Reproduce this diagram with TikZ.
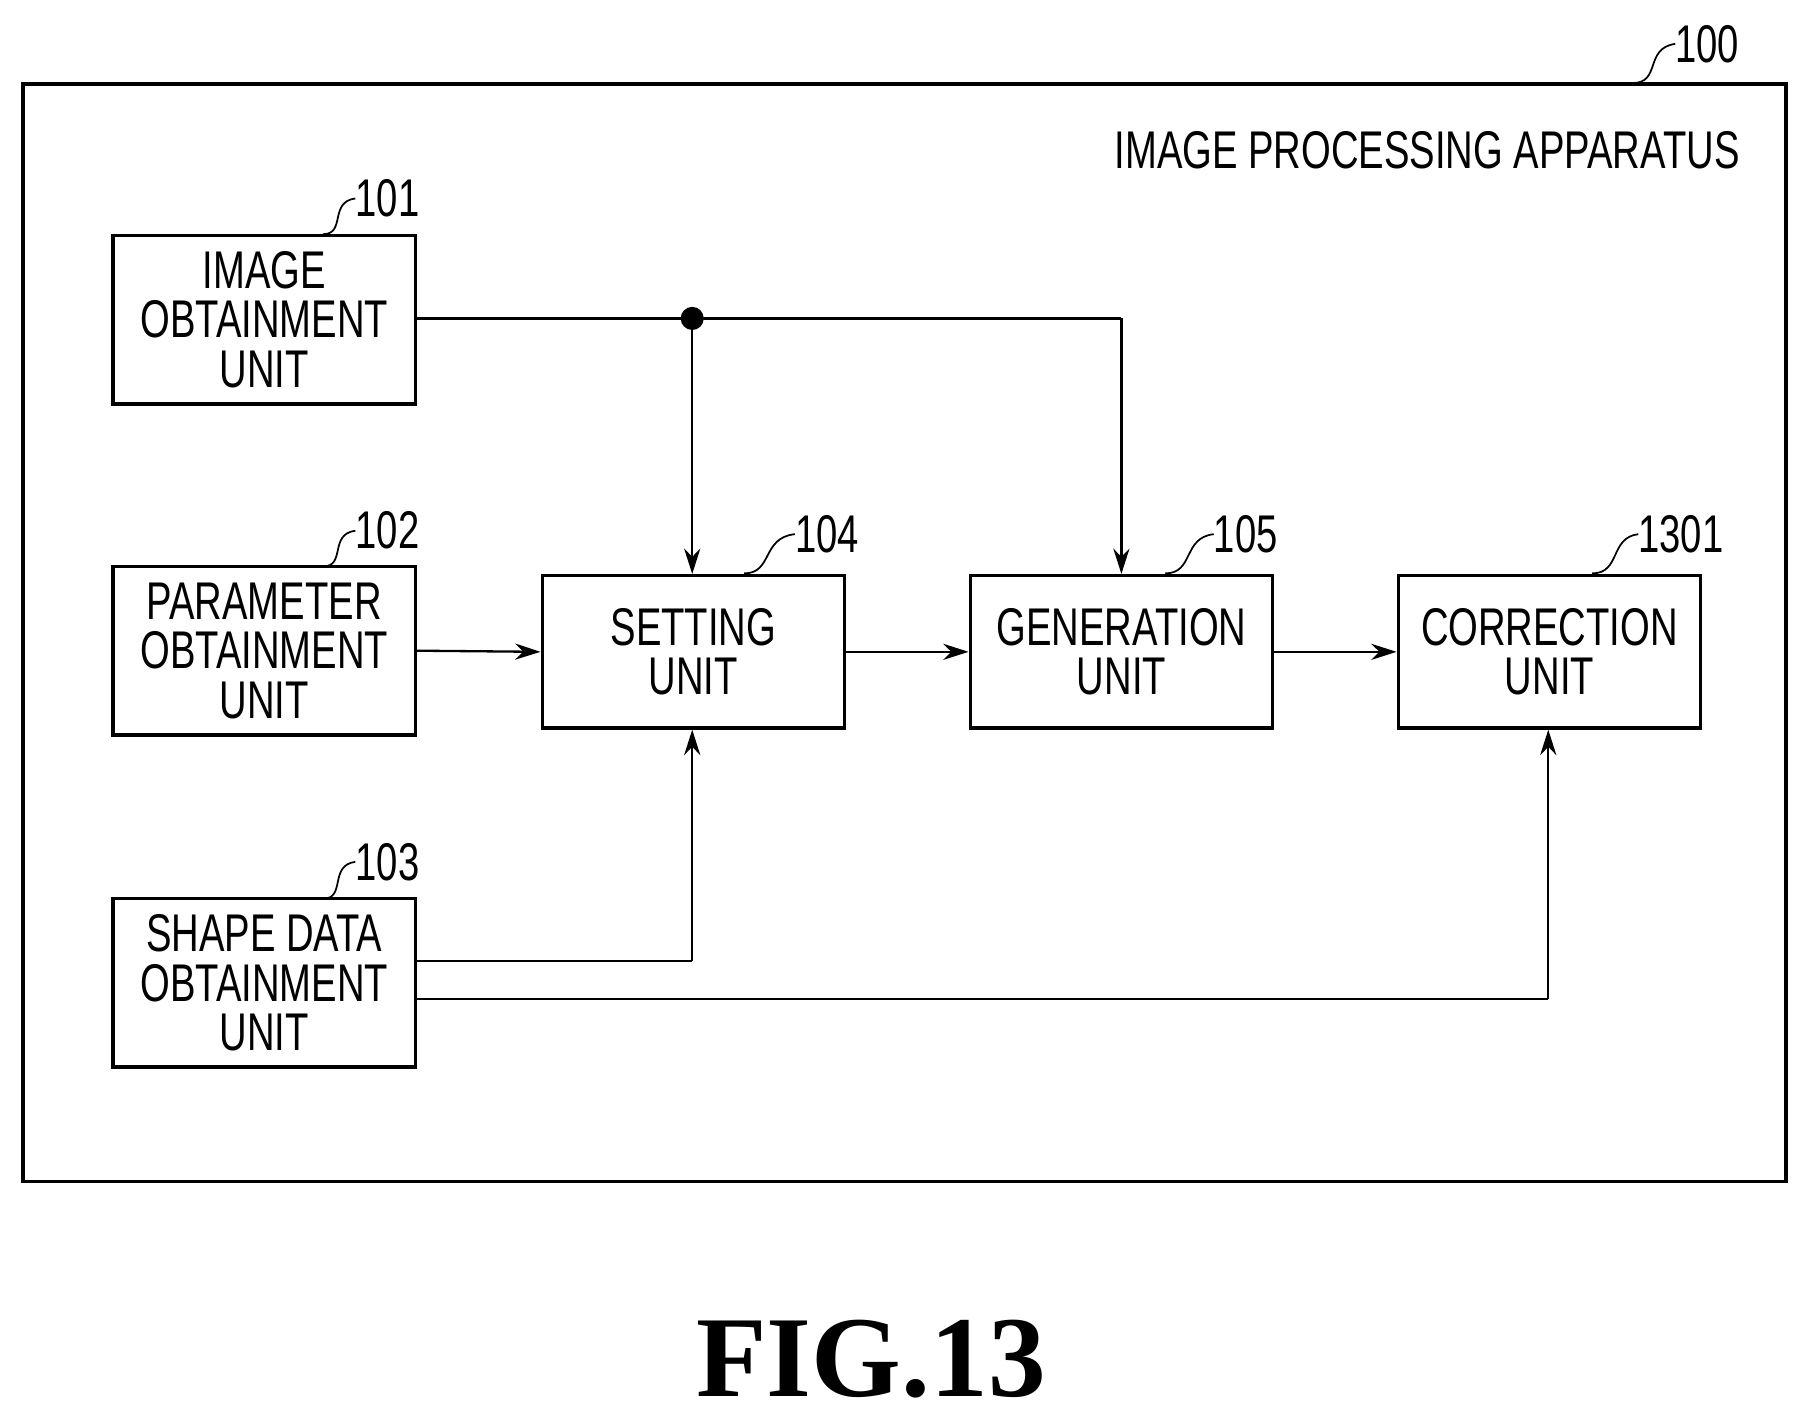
\documentclass[tikz,border=0pt]{standalone}
\usepackage{fontspec}
\setmainfont{Liberation Serif}
\newfontfamily\cond[FakeStretch=0.72]{Liberation Sans}
\usetikzlibrary{arrows.meta}
\begin{document}
\begin{tikzpicture}[x=1pt,y=-1pt,
  box/.style={draw,line width=3pt,minimum width=262pt,minimum height=146pt,inner sep=0pt,align=center,font=\cond\fontsize{46}{43}\selectfont},
  sbox/.style={box,minimum height=132pt},
  lbl/.style={font=\cond\fontsize{46}{46}\selectfont,anchor=west,inner sep=0pt},
  arr/.style={line width=2pt,-{Stealth[length=22pt,width=14pt]}},
  ln/.style={line width=2pt},
  sq/.style={line width=1.5pt}]
\useasboundingbox (0,0) rectangle (1568,1231);
\draw[line width=3pt] (20,73) rectangle (1548,1024);
\node[lbl,anchor=east] (title) at (1508,130) {IMAGE PROCESSING APPARATUS};
\node[lbl] (l100) at (1452,38) {100};
\draw[sq] (1415,72) .. controls (1440,72) and (1425,42) .. (l100.west);
\node[box] (b101) at (229,277) {IMAGE\\OBTAINMENT\\UNIT};
\node[box] (b102) at (229,564) {PARAMETER\\OBTAINMENT\\UNIT};
\node[box] (b103) at (229,852) {SHAPE DATA\\OBTAINMENT\\UNIT};
\node[sbox] (b104) at (601,565) {SETTING\\UNIT};
\node[sbox] (b105) at (972,565) {GENERATION\\UNIT};
\node[sbox] (b1301) at (1343,565) {CORRECTION\\UNIT};
\foreach \n/\x/\y/\t in {101/308/172/101,102/308/460/102,103/308/747/103,104/689/463/104,105/1052/463/105,1301/1420/463/1301}{
  \node[lbl] (l\n) at (\x,\y) {\t};
}
\draw[sq] (280,203) .. controls (300,203) and (285,175) .. (l101.west);
\draw[sq] (280,491) .. controls (300,491) and (285,463) .. (l102.west);
\draw[sq] (280,779) .. controls (300,779) and (285,750) .. (l103.west);
\draw[sq] (645,497) .. controls (670,497) and (660,466) .. (l104.west);
\draw[sq] (1010,497) .. controls (1035,497) and (1025,466) .. (l105.west);
\draw[sq] (1380,497) .. controls (1405,497) and (1395,466) .. (l1301.west);
\coordinate (dot) at (600,276);
\fill (dot) circle (10pt);
\draw[ln] (b101.east |- dot) -- (dot) -- (972,276);
\draw[arr] (972,276) -- (b105.north);
\draw[arr] (dot) -- (b104.north -| dot);
\draw[arr] (b102.east) -- (b104.west);
\draw[arr] (b104.east) -- (b105.west);
\draw[arr] (b105.east) -- (b1301.west);
\draw[ln] (360,833) -- (600,833);
\draw[arr] (600,833) -- (b104.south -| 600,0);
\draw[ln] (360,866) -- (1342,866);
\draw[arr] (1342,866) -- (b1301.south -| 1342,0);
\node[font=\bfseries\fontsize{100}{100}\selectfont] (fig) at (755,1178) {FIG.13};
\end{tikzpicture}
\end{document}
